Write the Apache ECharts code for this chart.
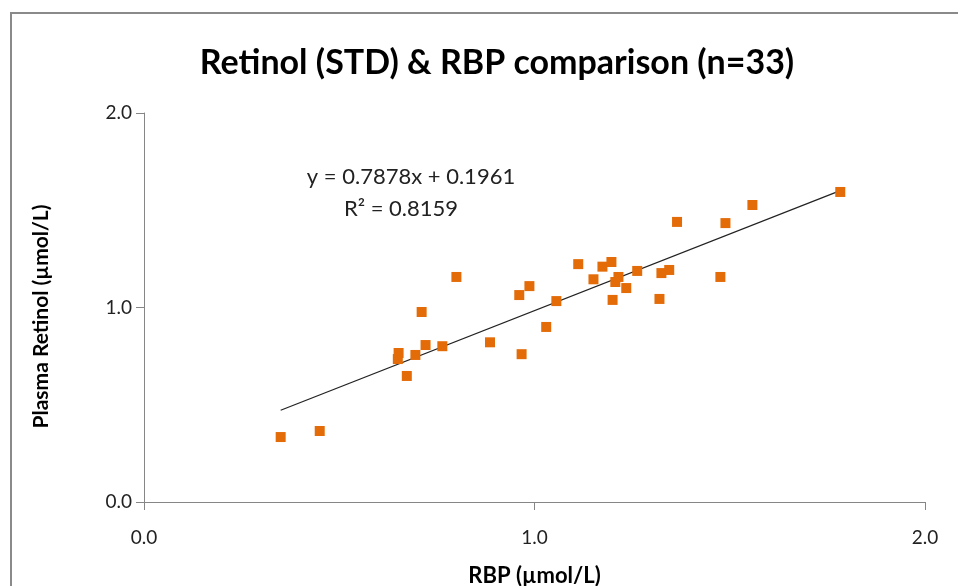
<!DOCTYPE html>
<html>
<head>
<meta charset="utf-8">
<script src="https://cdn.jsdelivr.net/npm/echarts@6/dist/echarts.min.js"></script>
<style>
    html, body { margin: 0; padding: 0; background: #fff; }
    #chart { width: 958px; height: 586px; }
</style>
</head>
<body>
<div id="chart"></div>
<script>
// 数据
var rbp = [0.350, 0.450, 0.650, 0.652, 0.673, 0.695, 0.711, 0.721, 0.764, 0.800,
           0.886, 0.967, 0.961, 0.987, 1.030, 1.056, 1.112, 1.151, 1.174, 1.197,
           1.215, 1.207, 1.200, 1.235, 1.263, 1.320, 1.325, 1.345, 1.365, 1.476,
           1.489, 1.558, 1.783];
var retinol = [0.334, 0.365, 0.735, 0.766, 0.648, 0.756, 0.977, 0.807, 0.801, 1.157,
               0.821, 0.760, 1.064, 1.110, 0.900, 1.033, 1.223, 1.145, 1.210, 1.234,
               1.157, 1.131, 1.039, 1.100, 1.188, 1.044, 1.177, 1.193, 1.440, 1.157,
               1.434, 1.527, 1.594];
var slope = 0.7878;
var intercept = 0.1961;
var r2 = 0.8159;
var axisTicks = [0, 1, 2];

var points = rbp.map(function (v, i) { return [v, retinol[i]]; });
var xMin = Math.min.apply(null, rbp);
var xMax = Math.max.apply(null, rbp);
var trend = [[xMin, slope * xMin + intercept], [xMax, slope * xMax + intercept]];

var font = 'Lato';
var myChart = echarts.init(document.getElementById('chart'));

myChart.setOption({
    animation: false,
    grid: { left: 144, right: 33, top: 113, bottom: 84, outerBoundsMode: 'none', containLabel: false },
    xAxis: {
        type: 'value',
        min: axisTicks[0],
        max: axisTicks[axisTicks.length - 1],
        interval: 1,
        name: 'RBP (µmol/L)',
        nameLocation: 'middle',
        nameGap: 63,
        nameTextStyle: { fontFamily: font, fontSize: 22, fontWeight: 'bold', color: '#000' },
        axisLine: { lineStyle: { color: '#868686', width: 1 } },
        axisTick: { show: true, inside: false, length: 8, lineStyle: { color: '#868686' } },
        axisLabel: {
            margin: 26,
            fontFamily: font, fontSize: 19, color: '#222',
            formatter: function (v) { return v.toFixed(1); }
        },
        splitLine: { show: false }
    },
    yAxis: {
        type: 'value',
        min: axisTicks[0],
        max: axisTicks[axisTicks.length - 1],
        interval: 1,
        name: 'Plasma Retinol (µmol/L)',
        nameLocation: 'middle',
        nameGap: 92,
        nameTextStyle: { fontFamily: font, fontSize: 21, fontWeight: 'bold', color: '#000', padding: [0, 18, 0, 0] },
        axisLine: { show: true, lineStyle: { color: '#868686', width: 1 } },
        axisTick: { show: true, inside: false, length: 8, lineStyle: { color: '#868686' } },
        axisLabel: {
            margin: 12,
            fontFamily: font, fontSize: 19, color: '#222',
            formatter: function (v) { return v.toFixed(1); }
        },
        splitLine: { show: false }
    },
    graphic: [
        {
            type: 'rect',
            shape: { x: 11, y: 13, width: 1200, height: 1000 },
            style: { fill: 'none', stroke: '#8a8a8a', lineWidth: 2 },
            silent: true
        },
        {
            type: 'text',
            x: 497, y: 63,
            style: {
                text: 'Retinol (STD) & RBP comparison (n=33)',
                align: 'center', verticalAlign: 'middle',
                fontFamily: font, fontSize: 34, fontWeight: 'bold', fill: '#000'
            }
        },
        {
            type: 'text',
            x: 411, y: 177,
            style: {
                text: 'y = ' + slope.toFixed(4) + 'x + ' + intercept.toFixed(4),
                align: 'center', verticalAlign: 'middle',
                fontFamily: font, fontSize: 22, fill: '#222'
            }
        },
        {
            type: 'text',
            x: 401, y: 209,
            style: {
                text: 'R² = ' + r2.toFixed(4),
                align: 'center', verticalAlign: 'middle',
                fontFamily: font, fontSize: 22, fill: '#222'
            }
        }
    ],
    series: [
        {
            name: 'Linear',
            type: 'line',
            data: trend,
            symbol: 'none',
            lineStyle: { color: '#222', width: 1.2 },
            z: 1
        },
        {
            name: 'Retinol',
            type: 'scatter',
            data: points,
            symbol: 'rect',
            symbolSize: 10,
            itemStyle: { color: '#E36C09', opacity: 1 },
            z: 2
        }
    ]
});
</script>
</body>
</html>
